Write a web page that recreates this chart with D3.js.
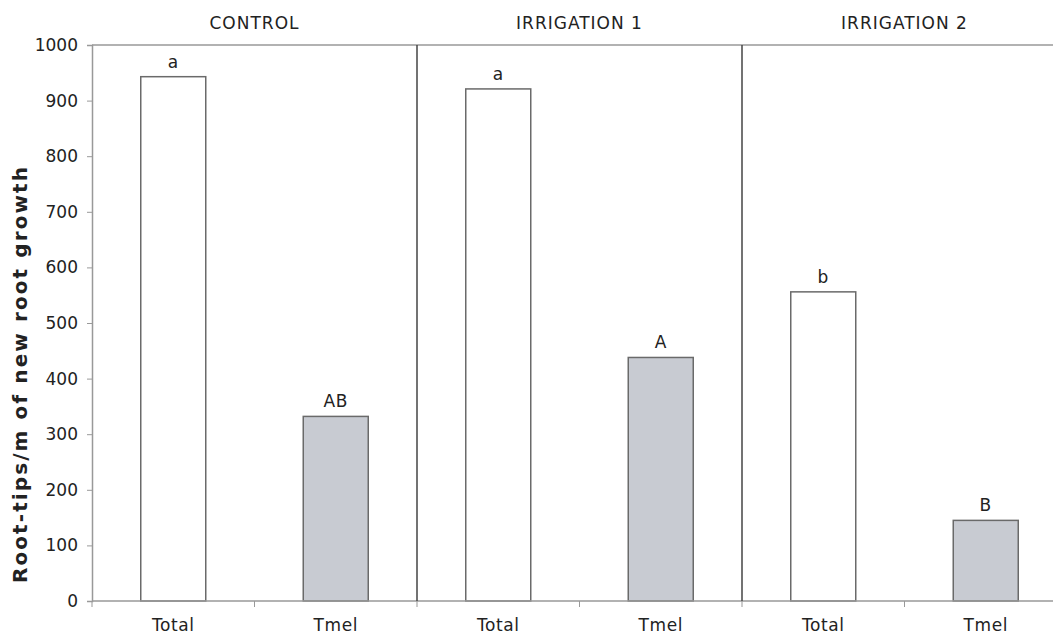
<!DOCTYPE html>
<html lang="en">
  <head>
    <meta charset="UTF-8">
    <script type="text/javascript" src="https://cdn.jsdelivr.net/npm/d3@7"></script>
    <title>Root tips</title>
    <style>
      body { margin: 0; background: #fff; }
    </style>
  </head>
  <body>
    <script type="text/javascript">
      let w = 1053;
      let h = 634;

      let groups = ['CONTROL', 'IRRIGATION 1', 'IRRIGATION 2'];
      let categories = ['Total', 'Tmel'];
      let totalValues = [943, 921, 556];
      let tmelValues = [332, 438, 145];
      let totalLetters = ['a', 'a', 'b'];
      let tmelLetters = ['AB', 'A', 'B'];
      let yTicks = [0, 100, 200, 300, 400, 500, 600, 700, 800, 900, 1000];

      // one row per bar, built from the arrays above
      let bars = [];
      groups.forEach((g, i) => {
        bars.push({ group: g, cat: categories[0], value: totalValues[i], letter: totalLetters[i] });
        bars.push({ group: g, cat: categories[1], value: tmelValues[i], letter: tmelLetters[i] });
      });
      bars.forEach((d, i) => d.key = i);

      let plotLeft = 92, plotRight = 1067, plotTop = 45, plotBottom = 601;
      let font = '"DejaVu Sans", Verdana, sans-serif';

      let xGroup = d3.scaleBand()
                     .domain(groups)
                     .range([plotLeft, plotRight]);
      let xScale = d3.scaleBand()
                     .domain(bars.map(d => d.key))
                     .range([plotLeft, plotRight])
                     .paddingInner(0.6)
                     .paddingOuter(0.3);
      let yScale = d3.scaleLinear()
                     .domain([0, 1000])
                     .range([plotBottom, plotTop]);

      let svg = d3.select('body')
                  .append('svg')
                  .attr('width', w)
                  .attr('height', h)
                  .style('font-family', font);

      // top border line at 1000
      svg.append('line')
         .attr('x1', plotLeft).attr('x2', plotRight)
         .attr('y1', yScale(1000)).attr('y2', yScale(1000))
         .attr('stroke', '#999').attr('stroke-width', 1.5);

      // y axis
      let yAxis = d3.axisLeft(yScale)
                    .tickValues(yTicks)
                    .tickFormat(d3.format('d'))
                    .tickSize(5)
                    .tickPadding(9);
      let gy = svg.append('g')
                  .attr('transform', `translate(${plotLeft},0)`)
                  .call(yAxis);
      gy.select('.domain').attr('stroke', '#999').attr('stroke-width', 1.5);
      gy.selectAll('.tick line').attr('stroke', '#999');
      gy.selectAll('.tick text')
        .attr('font-size', '17px')
        .attr('fill', '#222')
        .attr('font-family', font);

      // bars
      svg.selectAll('rect.bar')
         .data(bars)
         .enter()
         .append('rect')
         .attr('class', 'bar')
         .attr('x', d => xScale(d.key))
         .attr('y', d => yScale(d.value))
         .attr('width', xScale.bandwidth())
         .attr('height', d => yScale(0) - yScale(d.value))
         .attr('fill', d => d.cat === 'Total' ? '#ffffff' : '#c8cbd2')
         .attr('stroke', '#6a6a6a')
         .attr('stroke-width', 1.5);

      // x axis baseline
      svg.append('line')
         .attr('x1', plotLeft).attr('x2', plotRight)
         .attr('y1', yScale(0)).attr('y2', yScale(0))
         .attr('stroke', '#999').attr('stroke-width', 1.5);

      // ticks between bars
      let boundaries = bars.map(d => xScale(d.key) - xScale.step() * 0.3);
      svg.selectAll('line.xtick')
         .data(boundaries)
         .enter()
         .append('line')
         .attr('class', 'xtick')
         .attr('x1', d => d).attr('x2', d => d)
         .attr('y1', yScale(0)).attr('y2', yScale(0) + 6)
         .attr('stroke', '#999');

      // group dividers
      svg.selectAll('line.divider')
         .data(groups.slice(1))
         .enter()
         .append('line')
         .attr('class', 'divider')
         .attr('x1', d => xGroup(d)).attr('x2', d => xGroup(d))
         .attr('y1', yScale(1000)).attr('y2', yScale(0))
         .attr('stroke', '#444').attr('stroke-width', 1.5);

      // category labels
      svg.selectAll('text.cat')
         .data(bars)
         .enter()
         .append('text')
         .attr('class', 'cat')
         .attr('x', d => xScale(d.key) + xScale.bandwidth() / 2)
         .attr('y', 631)
         .attr('text-anchor', 'middle')
         .attr('font-size', '17px')
         .attr('letter-spacing', '0.6px')
         .attr('fill', '#222')
         .text(d => d.cat);

      // significance letters
      svg.selectAll('text.letter')
         .data(bars)
         .enter()
         .append('text')
         .attr('class', 'letter')
         .attr('x', d => xScale(d.key) + xScale.bandwidth() / 2)
         .attr('y', d => yScale(d.value) - 9)
         .attr('text-anchor', 'middle')
         .attr('font-size', '17px')
         .attr('letter-spacing', '0.6px')
         .attr('fill', '#222')
         .text(d => d.letter);

      // group titles
      svg.selectAll('text.group')
         .data(groups)
         .enter()
         .append('text')
         .attr('class', 'group')
         .attr('x', d => xGroup(d) + xGroup.bandwidth() / 2)
         .attr('y', 29)
         .attr('text-anchor', 'middle')
         .attr('font-size', '17px')
         .attr('letter-spacing', '1px')
         .attr('fill', '#222')
         .text(d => d);

      // y axis title
      svg.append('text')
         .attr('transform', 'translate(27,374) rotate(-90)')
         .attr('text-anchor', 'middle')
         .attr('font-size', '20px')
         .attr('font-weight', 'bold')
         .attr('letter-spacing', '2.1px')
         .attr('fill', '#222')
         .text('Root-tips/m of new root growth');
    </script>
  </body>
</html>
